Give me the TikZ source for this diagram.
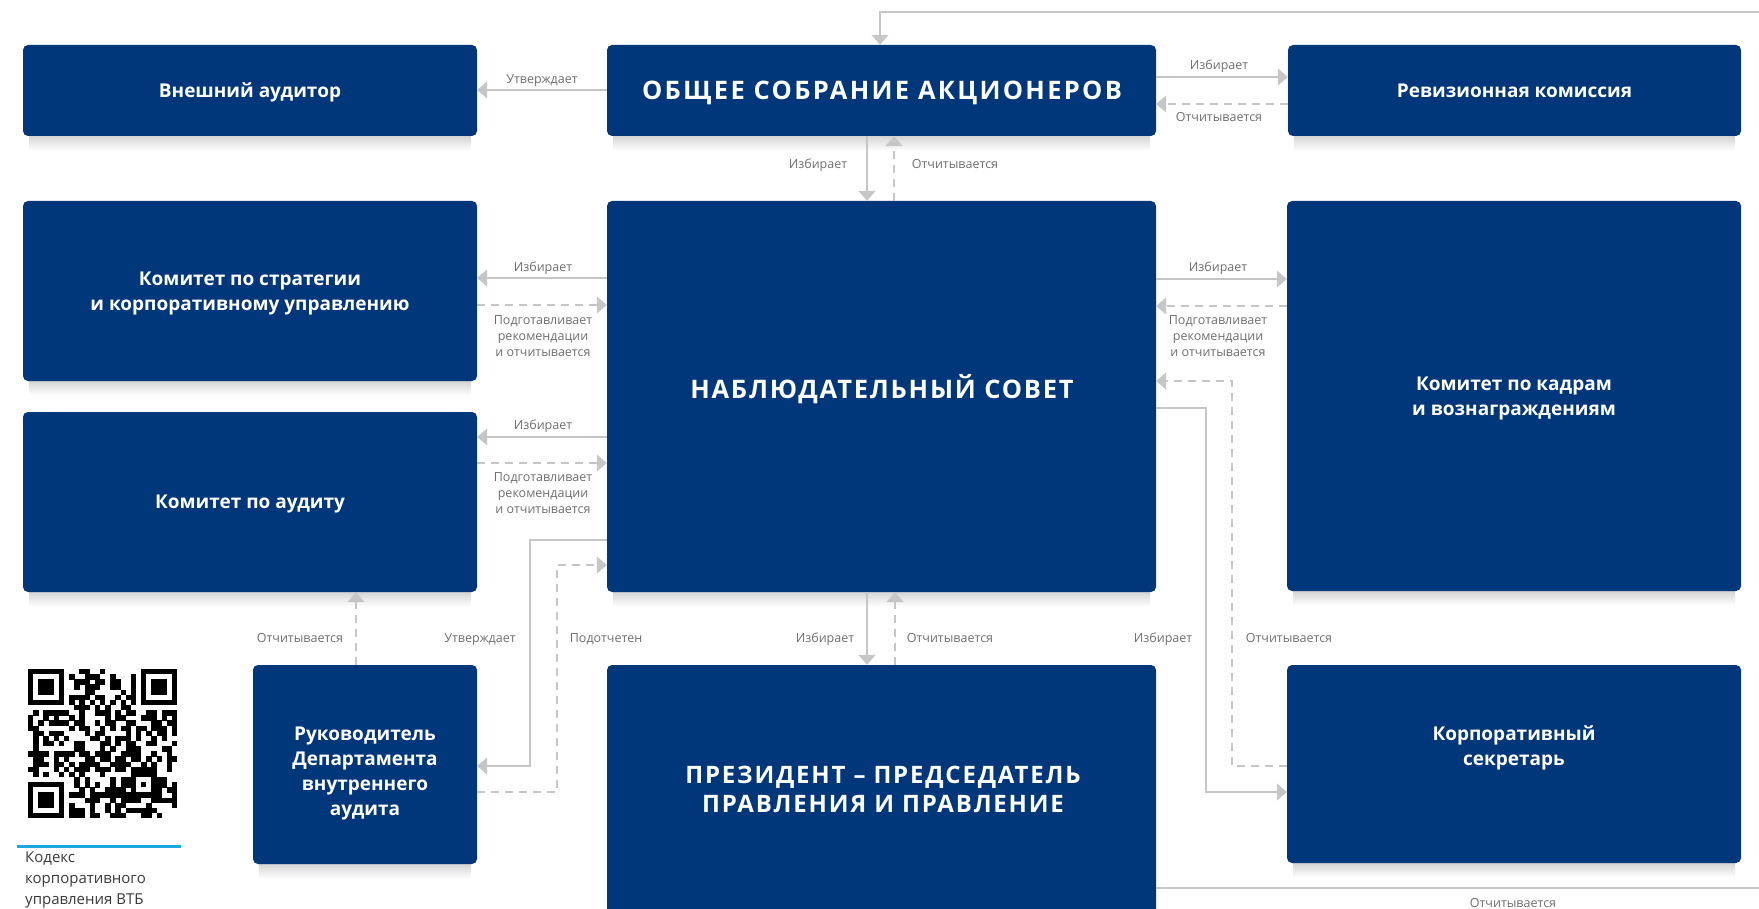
\documentclass[tikz,border=0pt]{standalone}
\usepackage{fontspec}
\setmainfont{Open Sans}
\usetikzlibrary{arrows.meta,calc}
\definecolor{vtbblue}{HTML}{00377A}
\definecolor{linegray}{HTML}{C6C6C6}
\definecolor{labelgray}{HTML}{6E6E6E}
\definecolor{qrline}{HTML}{1AA7E2}
\definecolor{codetext}{HTML}{3A3A3A}
\pgfdeclarelayer{bg}
\pgfsetlayers{bg,main}
\newcommand{\bxshadow}[1]{%
  \begin{pgfonlayer}{bg}
    \shade[top color=black!18, bottom color=white]
      ($(#1.south west)+(6,-1)$) rectangle ($(#1.south east)+(-6,14)$);
  \end{pgfonlayer}}
\begin{document}
\begin{tikzpicture}[x=1pt,y=-1pt,
  box/.style={fill=vtbblue, rounded corners=5pt, draw=none, inner sep=0pt,
    text=white, align=center, text depth=0pt, font=\bfseries\fontsize{19}{25}\selectfont},
  btext/.style={text=white, align=center, inner sep=0pt, text depth=0pt,
    font=\bfseries\fontsize{19}{25}\selectfont},
  ttl/.style={text=white, align=center, inner sep=0pt, text depth=0pt},
  conn/.style={draw=linegray, line width=1.5pt, -{Triangle[length=10pt,width=17pt]}},
  dsh/.style={conn, dash pattern=on 8pt off 6pt},
  plain/.style={draw=linegray, line width=1.5pt},
  lbl/.style={text=labelgray, align=center, inner sep=0pt, text depth=0pt,
    font=\fontsize{12.5}{16}\selectfont},
]
\useasboundingbox (0,0) rectangle (1759,909);

% ---- boxes
\node[box, minimum width=454, minimum height=91] (aud) at (250,90.5) {Внешний аудитор};
\node[box, minimum width=549, minimum height=91] (gsm) at (881.5,90.5) {};
\node[ttl, font=\bfseries\fontsize{25.5}{29}\selectfont\addfontfeature{LetterSpace=9}] (gsmt) at (882,90.5) {ОБЩЕЕ СОБРАНИЕ АКЦИОНЕРОВ};
\node[box, minimum width=453, minimum height=91] (rev) at (1514.5,90.5) {Ревизионная комиссия};
\node[box, minimum width=454, minimum height=180] (strat) at (250,291) {Комитет по стратегии\\и корпоративному управлению};
\node[box, minimum width=454, minimum height=180] (audc) at (250,502) {Комитет по аудиту};
\node[box, minimum width=549, minimum height=391] (ns) at (881.5,396.5) {};
\node[ttl, font=\bfseries\fontsize{25.5}{29}\selectfont\addfontfeature{LetterSpace=7}] (nst) at (882,386) {НАБЛЮДАТЕЛЬНЫЙ СОВЕТ};
\node[box, minimum width=454, minimum height=390] (hr) at (1514,396) {Комитет по кадрам\\и вознаграждениям};
\node[box, minimum width=224, minimum height=199] (head) at (365,764.5) {};
\node[btext] (headt) at (365,771) {Руководитель\\Департамента\\внутреннего\\аудита};
\node[box, minimum width=549, minimum height=252] (pres) at (881.5,791) {};
\node[ttl, font=\bfseries\fontsize{24}{29}\selectfont\addfontfeature{LetterSpace=7.5}] (prest) at (883,789) {ПРЕЗИДЕНТ – ПРЕДСЕДАТЕЛЬ\\ПРАВЛЕНИЯ И ПРАВЛЕНИЕ};
\node[box, minimum width=454, minimum height=198] (sec) at (1514,764) {};
\node[btext] (sect) at (1514,746) {Корпоративный\\секретарь};

\bxshadow{aud}\bxshadow{gsm}\bxshadow{rev}\bxshadow{strat}\bxshadow{audc}
\bxshadow{ns}\bxshadow{hr}\bxshadow{head}\bxshadow{sec}

% ---- free ends and bends
\coordinate (rt1) at (1759,888);
\coordinate (rt2) at (1759,12);
\coordinate (b1) at (1206,792);
\coordinate (b2) at (1232,381);
\coordinate (b3) at (530,766);
\coordinate (b4) at (557,565);

% ---- connectors
\draw[conn] (gsm.west |- 0,90) -- (aud.east |- 0,90);
\draw[conn] (gsm.east |- 0,77) -- (rev.west |- 0,77);
\draw[dsh] (rev.west |- 0,104) -- (gsm.east |- 0,104);
\draw[conn] (gsm.south -| 867,0) -- (ns.north -| 867,0);
\draw[dsh] (ns.north -| 894,0) -- (gsm.south -| 894,0);
\draw[conn] (ns.west |- 0,278) -- (strat.east |- 0,278);
\draw[dsh] (strat.east |- 0,305) -- (ns.west |- 0,305);
\draw[conn] (ns.west |- 0,437) -- (audc.east |- 0,437);
\draw[dsh] (audc.east |- 0,463) -- (ns.west |- 0,463);
\draw[conn] (ns.east |- 0,279) -- (hr.west |- 0,279);
\draw[dsh] (hr.west |- 0,306) -- (ns.east |- 0,306);
\draw[conn] (ns.south -| 867,0) -- (pres.north -| 867,0);
\draw[dsh] (pres.north -| 895,0) -- (ns.south -| 895,0);
\draw[conn] (ns.east |- 0,408) -| (b1) -- (sec.west |- b1);
\draw[dsh] (sec.west |- 0,766) -| (b2) -- (ns.east |- b2);
\draw[conn] (ns.west |- 0,540) -| (b3) -- (head.east |- b3);
\draw[dsh] (head.east |- 0,792) -| (b4) -- (ns.west |- b4);
\draw[dsh] (head.north -| 356,0) -- (audc.south -| 356,0);
\draw[plain] (pres.east |- rt1) -- (rt1);
\draw[conn] (rt2) -| (gsm.north -| 880,0);

% ---- labels
\node[lbl] (l1) at (542,79) {Утверждает};
\node[lbl] (l2) at (1219,65) {Избирает};
\node[lbl] (l3) at (1219,117) {Отчитывается};
\node[lbl] (l4) at (818,164) {Избирает};
\node[lbl] (l5) at (955,164) {Отчитывается};
\node[lbl] (l6) at (543,267) {Избирает};
\node[lbl] (l7) at (543,336) {Подготавливает\\рекомендации\\и отчитывается};
\node[lbl] (l8) at (543,425) {Избирает};
\node[lbl] (l9) at (543,493) {Подготавливает\\рекомендации\\и отчитывается};
\node[lbl] (l10) at (1218,267) {Избирает};
\node[lbl] (l11) at (1218,336) {Подготавливает\\рекомендации\\и отчитывается};
\node[lbl] (l12) at (300,638) {Отчитывается};
\node[lbl] (l13) at (480,638) {Утверждает};
\node[lbl] (l14) at (606,638) {Подотчетен};
\node[lbl] (l15) at (825,638) {Избирает};
\node[lbl] (l16) at (950,638) {Отчитывается};
\node[lbl] (l17) at (1163,638) {Избирает};
\node[lbl] (l18) at (1289,638) {Отчитывается};
\node[lbl] (l19) at (1513,903) {Отчитывается};

% ---- QR code (29 x 29 modules)
\begin{scope}[shift={(28,669)}]
  \def\m{5.14}
  \pgfmathsetseed{11}
  \foreach \i in {0,...,28}{
    \foreach \j in {0,...,28}{
      \pgfmathrandominteger{\r}{0}{1}
      \pgfmathtruncatemacro{\res}{((\i<8)&&(\j<8)) || ((\i>20)&&(\j<8)) || ((\i<8)&&(\j>20)) || (\i==6) || (\j==6) || ((\i>19)&&(\i<25)&&(\j>19)&&(\j<25))}
      \ifnum\res=0 \ifnum\r=1
        \fill[black] (\i*\m,\j*\m) rectangle ++(\m+0.3,\m+0.3);
      \fi\fi
    }
  }
  \foreach \k in {8,10,...,20}{
    \fill[black] (\k*\m,6*\m) rectangle ++(\m+0.3,\m+0.3);
    \fill[black] (6*\m,\k*\m) rectangle ++(\m+0.3,\m+0.3);
  }
  \foreach \ox/\oy in {0/0,22/0,0/22}{
    \fill[black] (\ox*\m,\oy*\m) rectangle ++(7*\m,7*\m);
    \fill[white] (\ox*\m+\m,\oy*\m+\m) rectangle ++(5*\m,5*\m);
    \fill[black] (\ox*\m+2*\m,\oy*\m+2*\m) rectangle ++(3*\m,3*\m);
  }
  \fill[black] (20*\m,20*\m) rectangle ++(5*\m,5*\m);
  \fill[white] (21*\m,21*\m) rectangle ++(3*\m,3*\m);
  \fill[black] (22*\m,22*\m) rectangle ++(\m,\m);
\end{scope}
\coordinate (qrl) at (17,846);
\coordinate (qrr) at (181,846);
\draw[qrline, line width=3pt] (qrl) -- (qrr);
\node[anchor=north west, inner sep=0pt, align=left, text=codetext,
  font=\fontsize{15}{21}\selectfont] (code) at (25,852) {Кодекс\\корпоративного\\управления ВТБ};
\end{tikzpicture}
\end{document}
